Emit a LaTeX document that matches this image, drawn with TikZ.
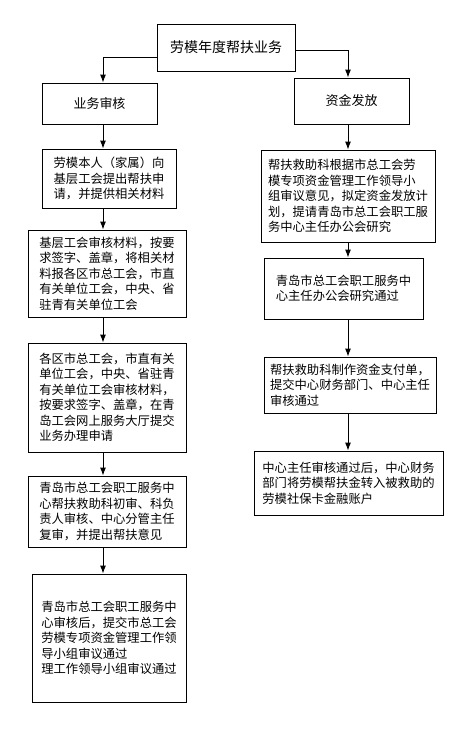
\documentclass[tikz,border=0pt]{standalone}
\usepackage{fontspec}
\setmainfont{Noto Sans CJK SC}
\usetikzlibrary{arrows.meta, positioning}

\begin{document}
\begin{tikzpicture}[x=1pt, y=-1pt,
    stepbox/.style={draw=black, line width=0.9pt, align=left, inner sep=0pt,
        font=\fontsize{12.3}{15.5}\selectfont},
    headbox/.style={draw=black, line width=0.9pt, inner sep=0pt,
        font=\fontsize{13}{15.5}\selectfont},
    arr/.style={black, line width=0.9pt, -{Latex[length=8pt, width=6pt]}}]
\fill[white] (0,0) rectangle (473,729);
\useasboundingbox (0,0) rectangle (473,729);

\coordinate (colL) at (103,0);
\coordinate (colR) at (348,0);

\node[headbox, minimum width=138pt, minimum height=47pt, font=\fontsize{14}{16}\selectfont] (top) at (226,47.5) {劳模年度帮扶业务};
\node[headbox, minimum width=115pt, minimum height=41pt] (yewu) at (99.5,103.5) {业务审核};
\node[headbox, minimum width=115pt, minimum height=46pt] (zijin) at (351.5,101) {资金发放};

\node[stepbox, minimum width=134pt, minimum height=59pt] (shenqing) at (109,178.5) {劳模本人（家属）向\\基层工会提出帮扶申\\请，并提供相关材料};
\node[stepbox, minimum width=158pt, minimum height=87pt] (jiceng) at (107,273.5) {基层工会审核材料，按要\\求签字、盖章，将相关材\\料报各区市总工会，市直\\有关单位工会，中央、省\\驻青有关单位工会};
\node[stepbox, minimum width=158pt, minimum height=109pt] (gequ) at (107,397.5) {各区市总工会，市直有关\\单位工会，中央、省驻青\\有关单位工会审核材料，\\按要求签字、盖章，在青\\岛工会网上服务大厅提交\\业务办理申请};
\node[stepbox, minimum width=158pt, minimum height=71pt] (fuwu) at (107,511.5) {青岛市总工会职工服务中\\心帮扶救助科初审、科负\\责人审核、中心分管主任\\复审，并提出帮扶意见};
\node[stepbox, minimum width=154pt, minimum height=128pt] (tijiao) at (109,638) {青岛市总工会职工服务中\\心审核后，提交市总工会\\劳模专项资金管理工作领\\导小组审议通过\\理工作领导小组审议通过};

\node[stepbox, minimum width=174pt, minimum height=92pt] (jihua) at (348,196) {帮扶救助科根据市总工会劳\\模专项资金管理工作领导小\\组审议意见，拟定资金发放计\\划，提请青岛市总工会职工服\\务中心主任办公会研究};
\node[stepbox, minimum width=159pt, minimum height=61pt] (bangong) at (343.5,288.5) {青岛市总工会职工服务中\\心主任办公会研究通过};
\node[stepbox, minimum width=172pt, minimum height=56pt] (zhifu) at (350,385) {帮扶救助科制作资金支付单，\\提交中心财务部门、中心主任\\审核通过};
\node[stepbox, minimum width=189pt, minimum height=64pt] (zhanghu) at (348.5,483) {中心主任审核通过后，中心财务\\部门将劳模帮扶金转入被救助的\\劳模社保卡金融账户};

\draw[arr] ([yshift=-9.5pt]top.west) -| (yewu.north -| colL);
\draw[arr] ([yshift=-2.5pt]top.east) -| (zijin.north -| colR);

\draw[arr] (yewu.south -| colL) -- (shenqing.north -| colL);
\draw[arr] (shenqing.south -| colL) -- (jiceng.north -| colL);
\draw[arr] (jiceng.south -| colL) -- (gequ.north -| colL);
\draw[arr] (gequ.south -| colL) -- (fuwu.north -| colL);
\draw[arr] (fuwu.south -| colL) -- (tijiao.north -| colL);

\draw[arr] (zijin.south -| colR) -- (jihua.north -| colR);
\draw[arr] (jihua.south -| colR) -- (bangong.north -| colR);
\draw[arr] (bangong.south -| colR) -- (zhifu.north -| colR);
\draw[arr] (zhifu.south -| colR) -- (zhanghu.north -| colR);

\end{tikzpicture}
\end{document}
